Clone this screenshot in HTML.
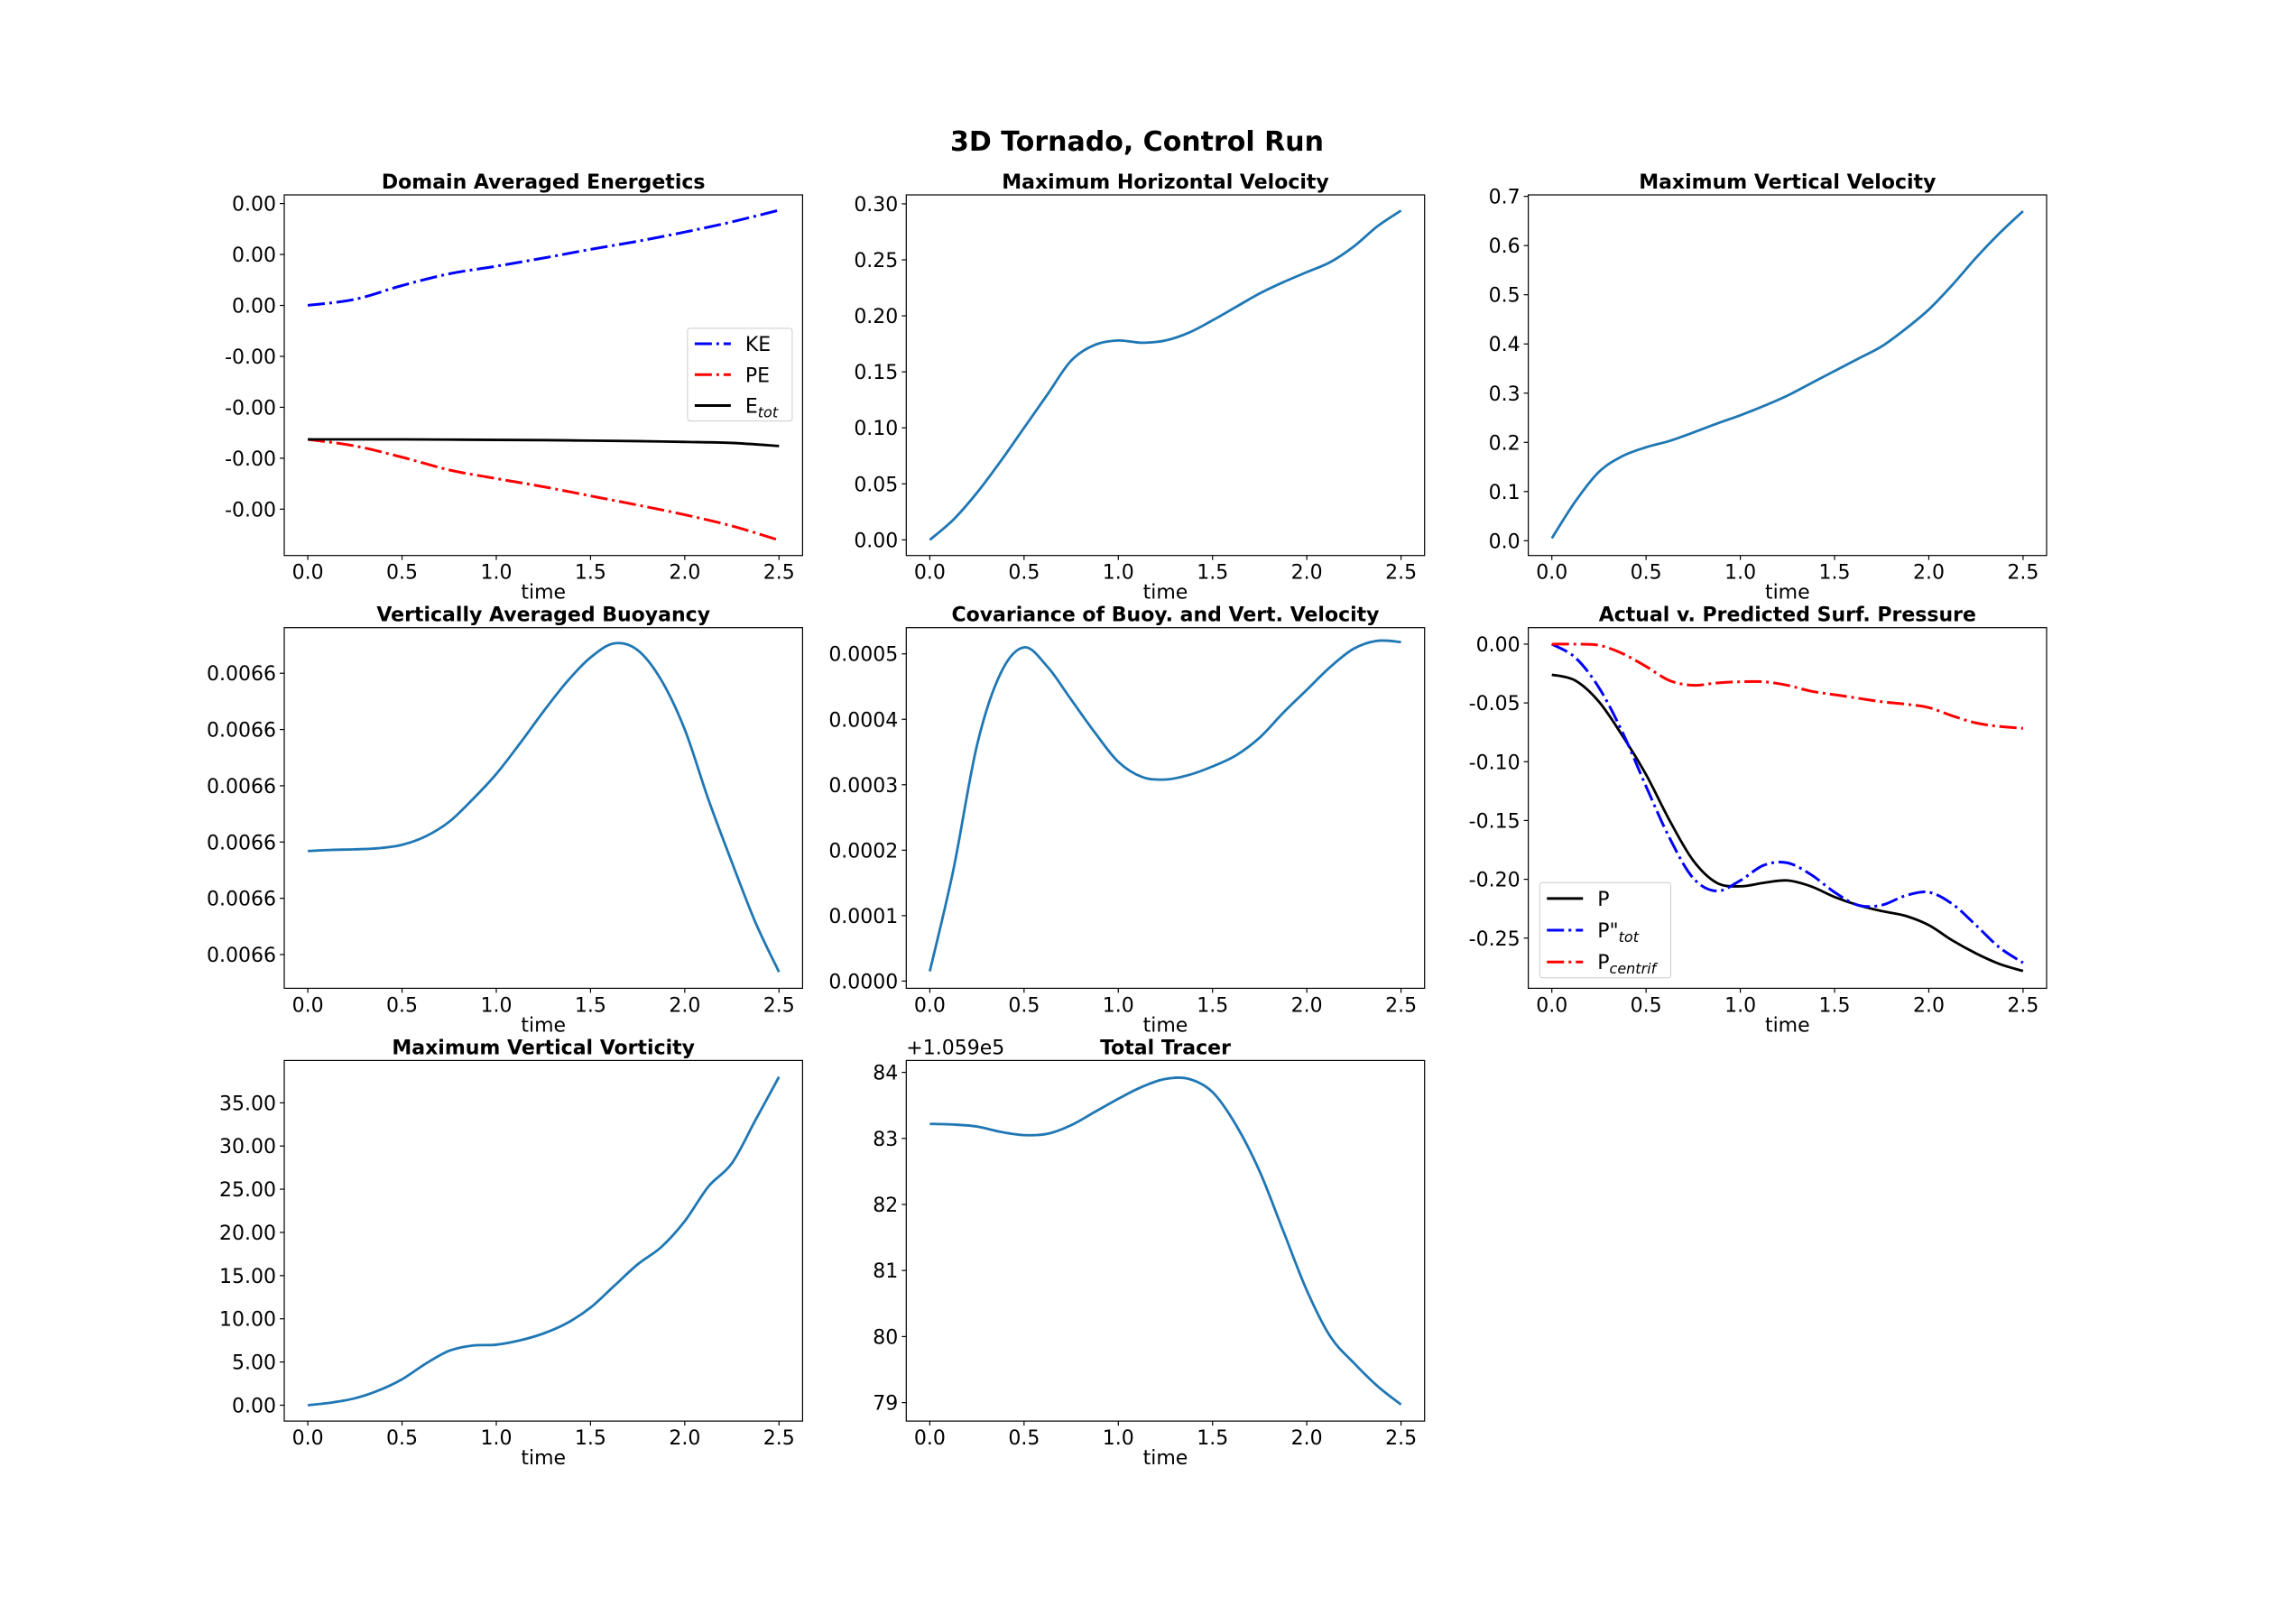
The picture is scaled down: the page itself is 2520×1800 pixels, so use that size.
<!DOCTYPE html>
<html><head><meta charset="utf-8">
<style>
html,body{margin:0;padding:0;background:#fff;}
svg{display:block;font-family:"DejaVu Sans","Liberation Sans",sans-serif;}
</style></head>
<body>
<svg id="fig" width="2520" height="1800" viewBox="0 0 2520 1800" xmlns="http://www.w3.org/2000/svg">
<rect width="2520" height="1800" fill="#fff"/>
<text x="1260" y="167" text-anchor="middle" font-size="30" font-weight="bold">3D Tornado, Control Run</text>
</svg>
<script>
const T = [0,0.125,0.25,0.375,0.5,0.625,0.75,0.875,1.0,1.125,1.25,1.375,1.5,1.625,1.75,1.875,2.0,2.125,2.25,2.375,2.5];
const xTicks = [0,0.5,1.0,1.5,2.0,2.5];
const xTickLabels = ["0.0","0.5","1.0","1.5","2.0","2.5"];

// Panel 1 energetics (arbitrary units)
const T1 = [0,0.25,0.5,0.75,1.0,1.25,1.5,1.75,2.0,2.25,2.5];
const keVals = [0,0.12,0.39,0.62,0.77,0.93,1.1,1.26,1.44,1.64,1.87];
const peVals = [-2.63,-2.76,-2.98,-3.23,-3.4,-3.56,-3.74,-3.92,-4.11,-4.33,-4.61];
const etotVals = [-2.63,-2.63,-2.63,-2.635,-2.64,-2.645,-2.655,-2.665,-2.68,-2.70,-2.76];
const p1Ticks = [2,1,0,-1,-2,-3,-4];
const p1TickLabels = ["0.00","0.00","0.00","-0.00","-0.00","-0.00","-0.00"];

// Panel 2 max horizontal velocity
const hVelVals = [0,0.018,0.042,0.07,0.1,0.13,0.16,0.174,0.178,0.176,0.178,0.185,0.196,0.208,0.22,0.23,0.239,0.248,0.262,0.28,0.294];
const p2Ticks = [0,0.05,0.1,0.15,0.2,0.25,0.3];
const p2TickLabels = ["0.00","0.05","0.10","0.15","0.20","0.25","0.30"];

// Panel 3 max vertical velocity
const vVelVals = [0.005,0.08,0.14,0.172,0.19,0.203,0.22,0.238,0.255,0.274,0.295,0.32,0.345,0.37,0.395,0.43,0.47,0.52,0.575,0.625,0.67];
const p3Ticks = [0,0.1,0.2,0.3,0.4,0.5,0.6,0.7];
const p3TickLabels = ["0.0","0.1","0.2","0.3","0.4","0.5","0.6","0.7"];

// Panel 4 buoyancy (arbitrary units)
const buoyVals = [1.84,1.86,1.87,1.89,1.95,2.10,2.36,2.76,3.21,3.75,4.32,4.85,5.28,5.53,5.41,4.88,4.0,2.76,1.64,0.57,-0.31];
const p4Ticks = [0,1,2,3,4,5];
const p4TickLabels = ["0.0066","0.0066","0.0066","0.0066","0.0066","0.0066"];

// Panel 5 covariance
const covVals = [0.000015,0.00017,0.00036,0.00047,0.00051,0.00048,0.00043,0.00038,0.000335,0.000312,0.000308,0.000315,0.000328,0.000345,0.000372,0.00041,0.000445,0.00048,0.000508,0.00052,0.000518];
const p5Ticks = [0,0.0001,0.0002,0.0003,0.0004,0.0005];
const p5TickLabels = ["0.0000","0.0001","0.0002","0.0003","0.0004","0.0005"];

// Panel 6 pressure
const pVals = [-0.026,-0.031,-0.049,-0.078,-0.111,-0.15,-0.184,-0.203,-0.206,-0.203,-0.201,-0.206,-0.215,-0.222,-0.227,-0.231,-0.239,-0.252,-0.263,-0.272,-0.278];
const ptotVals = [0,-0.0115,-0.037,-0.075,-0.121,-0.165,-0.199,-0.210,-0.201,-0.188,-0.186,-0.196,-0.211,-0.222,-0.222,-0.214,-0.211,-0.221,-0.239,-0.258,-0.271];
const pcenVals = [0,0,-0.001,-0.008,-0.019,-0.031,-0.035,-0.033,-0.032,-0.032,-0.035,-0.040,-0.043,-0.046,-0.049,-0.051,-0.054,-0.061,-0.067,-0.070,-0.0716];
const p6Ticks = [0,-0.05,-0.1,-0.15,-0.2,-0.25];
const p6TickLabels = ["0.00","-0.05","-0.10","-0.15","-0.20","-0.25"];

// Panel 7 vorticity
const vortVals = [0,0.3,0.8,1.7,3,4.8,6.3,6.9,7.0,7.5,8.3,9.5,11.3,13.8,16.3,18.3,21.3,25.3,28,33,38];
const p7Ticks = [0,5,10,15,20,25,30,35];
const p7TickLabels = ["0.00","5.00","10.00","15.00","20.00","25.00","30.00","35.00"];

// Panel 8 tracer (minus offset 1.059e5)
const tracerVals = [83.22,83.21,83.18,83.1,83.05,83.07,83.2,83.4,83.6,83.78,83.9,83.9,83.7,83.2,82.5,81.6,80.7,80.0,79.6,79.25,78.97];
const p8Ticks = [79,80,81,82,83,84];
const p8TickLabels = ["79","80","81","82","83","84"];

const NS = "http://www.w3.org/2000/svg";
const svg = document.getElementById("fig");
const AW = 574.4, AH = 399.7;
const colX = [315, 1004.3, 1693.6];
const rowY = [216, 695.7, 1175.4];
const XMIN = -0.125, XMAX = 2.625;
const FS = 22;

function el(tag, attrs, parent) {
  const e = document.createElementNS(NS, tag);
  for (const k in attrs) e.setAttribute(k, attrs[k]);
  parent.appendChild(e);
  return e;
}
function smoothPath(pts) {
  let d = "M" + pts[0][0].toFixed(2) + "," + pts[0][1].toFixed(2);
  for (let i = 0; i < pts.length - 1; i++) {
    const p0 = pts[Math.max(0, i - 1)], p1 = pts[i], p2 = pts[i + 1], p3 = pts[Math.min(pts.length - 1, i + 2)];
    const c1x = p1[0] + (p2[0] - p0[0]) / 6, c1y = p1[1] + (p2[1] - p0[1]) / 6;
    const c2x = p2[0] - (p3[0] - p1[0]) / 6, c2y = p2[1] - (p3[1] - p1[1]) / 6;
    d += "C" + c1x.toFixed(2) + "," + c1y.toFixed(2) + " " + c2x.toFixed(2) + "," + c2y.toFixed(2) + " " + p2[0].toFixed(2) + "," + p2[1].toFixed(2);
  }
  return d;
}
function makeAxes(name, col, row, title, ymin, ymax, yTicks, yLabels) {
  const x0 = colX[col], y0 = rowY[row];
  const g = el("g", {}, svg);
  
  
  const sx = v => x0 + (v - XMIN) / (XMAX - XMIN) * AW;
  const sy = v => y0 + AH - (v - ymin) / (ymax - ymin) * AH;
  const t = el("text", {x: x0 + AW / 2, y: y0 - 7, "text-anchor": "middle", "font-size": FS, "font-weight": "bold"}, g);
  t.textContent = title;
  
  
  xTicks.forEach((v, i) => {
    const X = sx(v);
    el("line", {x1: X, x2: X, y1: y0 + AH, y2: y0 + AH + 5, stroke: "#000", "stroke-width": 1.2}, g);
    const tl = el("text", {x: X, y: y0 + AH + 26, "text-anchor": "middle", "font-size": FS}, g);
    tl.textContent = xTickLabels[i];
    
    
  });
  const xl = el("text", {x: x0 + AW / 2, y: y0 + AH + 48, "text-anchor": "middle", "font-size": FS}, g);
  xl.textContent = "time";
  
  
  yTicks.forEach((v, i) => {
    const Y = sy(v);
    el("line", {x1: x0 - 5, x2: x0, y1: Y, y2: Y, stroke: "#000", "stroke-width": 1.2}, g);
    const tl = el("text", {x: x0 - 9, y: Y + 8, "text-anchor": "end", "font-size": FS}, g);
    tl.textContent = yLabels[i];
    
    
  });
  const clipId = "clip" + col + row;
  const cp = el("clipPath", {id: clipId}, g);
  el("rect", {x: x0, y: y0, width: AW, height: AH}, cp);
  const plot = el("g", {"clip-path": "url(#" + clipId + ")"}, g);
  const frame = el("rect", {x: x0, y: y0, width: AW, height: AH, fill: "none", stroke: "#000", "stroke-width": 1.2}, g);
  
  
  return {g, plot, sx, sy, x0, y0};
}
function series(ax, xs, ys, color, dash, name) {
  const pts = xs.map((x, i) => [ax.sx(x), ax.sy(ys[i])]);
  const p = el("path", {d: smoothPath(pts), fill: "none", stroke: color, "stroke-width": dash ? 3 : 2.8, "stroke-linejoin": "round"}, ax.plot);
  if (dash) p.setAttribute("stroke-dasharray", "19,5,3,5");
  
  
  return p;
}
function legend(ax, fx0, fy0, fx1, fy1, entries) {
  const lx = ax.x0 + fx0 * AW, ly = ax.y0 + fy0 * AH, w = (fx1 - fx0) * AW, h = (fy1 - fy0) * AH;
  const lg = el("g", {}, ax.g);
  
  
  el("rect", {x: lx, y: ly, width: w, height: h, rx: 3, fill: "#fff", "fill-opacity": 0.8, stroke: "#ccc", "stroke-width": 1}, lg);
  const step = h / entries.length;
  entries.forEach((e, i) => {
    const cy = ly + step * (i + 0.5);
    const ln = el("line", {x1: lx + 8, x2: lx + 48, y1: cy, y2: cy, stroke: e.color, "stroke-width": 3}, lg);
    if (e.dash) ln.setAttribute("stroke-dasharray", "19,5,3,5");
    const tx = el("text", {x: lx + 64, y: cy + 8, "font-size": FS}, lg);
    tx.innerHTML = e.label;
    
    
  });
}

// Panel 1
const a1 = makeAxes("energetics-panel", 0, 0, "Domain Averaged Energetics", -4.91, 2.17, p1Ticks, p1TickLabels);
series(a1, T1, keVals, "#0000ff", true, "ke-line");
series(a1, T1, peVals, "#ff0000", true, "pe-line");
series(a1, T1, etotVals, "#000000", false, "etot-line");
legend(a1, 0.778, 0.37, 0.98, 0.627, [
  {label: "KE", color: "#0000ff", dash: true},
  {label: "PE", color: "#ff0000", dash: true},
  {label: 'E<tspan font-style="italic" font-size="16" dy="5">tot</tspan>', color: "#000", dash: false}
]);

// Panel 2
const a2 = makeAxes("horizontal-velocity-panel", 1, 0, "Maximum Horizontal Velocity", -0.014, 0.308, p2Ticks, p2TickLabels);
series(a2, T, hVelVals, "#1f77b4", false, "hvel-line");

// Panel 3
const a3 = makeAxes("vertical-velocity-panel", 2, 0, "Maximum Vertical Velocity", -0.03, 0.703, p3Ticks, p3TickLabels);
series(a3, T, vVelVals, "#1f77b4", false, "vvel-line");

// Panel 4
const a4 = makeAxes("buoyancy-panel", 0, 1, "Vertically Averaged Buoyancy", -0.6, 5.81, p4Ticks, p4TickLabels);
series(a4, T, buoyVals, "#1f77b4", false, "buoyancy-line");

// Panel 5
const a5 = makeAxes("covariance-panel", 1, 1, "Covariance of Buoy. and Vert. Velocity", -0.000011, 0.00054, p5Ticks, p5TickLabels);
series(a5, T, covVals, "#1f77b4", false, "covariance-line");

// Panel 6
const a6 = makeAxes("pressure-panel", 2, 1, "Actual v. Predicted Surf. Pressure", -0.2927, 0.014, p6Ticks, p6TickLabels);
series(a6, T, pVals, "#000000", false, "p-line");
series(a6, T, ptotVals, "#0000ff", true, "ptot-line");
series(a6, T, pcenVals, "#ff0000", true, "pcentrif-line");
legend(a6, 0.022, 0.707, 0.275, 0.971, [
  {label: "P", color: "#000", dash: false},
  {label: 'P"<tspan font-style="italic" font-size="16" dy="5">tot</tspan>', color: "#0000ff", dash: true},
  {label: 'P<tspan font-style="italic" font-size="16" dy="5">centrif</tspan>', color: "#ff0000", dash: true}
]);

// Panel 7
const a7 = makeAxes("vorticity-panel", 0, 2, "Maximum Vertical Vorticity", -1.84, 39.9, p7Ticks, p7TickLabels);
series(a7, T, vortVals, "#1f77b4", false, "vorticity-line");

// Panel 8
const a8 = makeAxes("tracer-panel", 1, 2, "Total Tracer", 78.72, 84.18, p8Ticks, p8TickLabels);
series(a8, T, tracerVals, "#1f77b4", false, "tracer-line");
const off = el("text", {x: a8.x0, y: a8.y0 - 7, "font-size": FS}, a8.g);
off.textContent = "+1.059e5";


</script>
</body></html>
